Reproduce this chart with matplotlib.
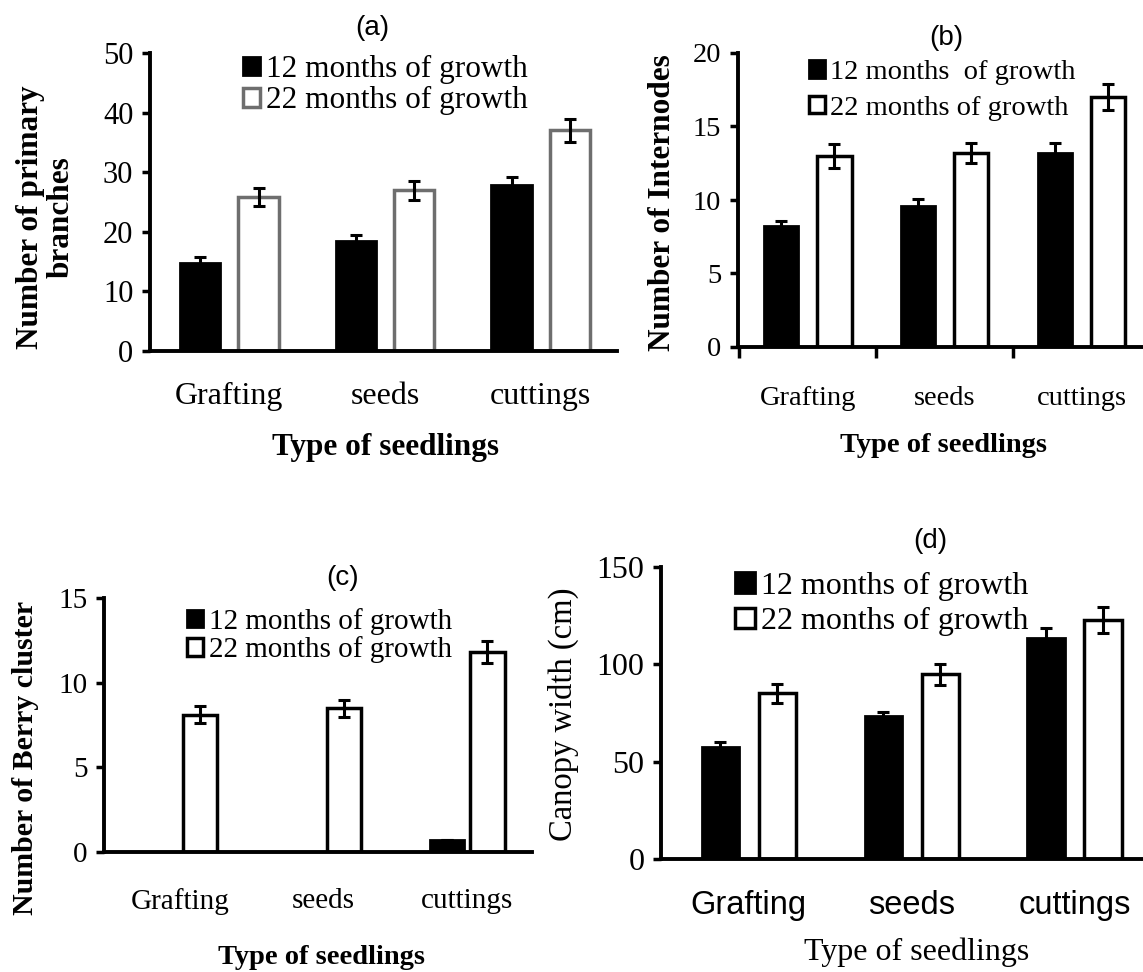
import numpy as np
import matplotlib
matplotlib.use("Agg")
import matplotlib.pyplot as plt

plt.rcParams['font.family'] = ['Liberation Serif', 'DejaVu Serif']

# data
seedlings = ["Grafting", "seeds", "cuttings"]
series_names = ["12 months of growth", "22 months of growth"]

branches_12 = [14.8, 18.4, 27.8]
branches_22 = [25.8, 27.0, 37.0]
branches_12_err = [1.0, 1.0, 1.4]
branches_22_err = [1.5, 1.6, 2.0]

internodes_12 = [8.2, 9.6, 13.2]
internodes_22 = [13.0, 13.2, 17.0]
internodes_12_err = [0.4, 0.5, 0.7]
internodes_22_err = [0.8, 0.7, 0.9]

berry_12 = [0.0, 0.0, 0.7]
berry_22 = [8.1, 8.5, 11.8]
berry_12_err = [0.0, 0.0, 0.0]
berry_22_err = [0.5, 0.5, 0.65]

canopy_12 = [57.4, 73.5, 113.6]
canopy_22 = [85.1, 95.0, 122.7]
canopy_12_err = [2.6, 2.2, 5.3]
canopy_22_err = [5.0, 5.4, 6.8]

W, H = 1143, 972
fig = plt.figure(figsize=(W / 100, H / 100), dpi=100)


def px_box(left, right, top, bottom):
    return [left / W, 1 - bottom / H, (right - left) / W, (bottom - top) / H]


def fx(x):
    return x / W


def fy(y):
    return 1 - y / H


def panel(box, xlim, ylim, yticks, v12, v22, e12, e22, width, offset,
          white_edge="black", tick_font=None, tick_size=20, ytick_size=20,
          tick_pad=24):
    ax = fig.add_axes(px_box(*box))
    x = np.arange(len(seedlings))
    b1 = ax.bar(x - offset, v12, width, color="black", edgecolor="black",
                linewidth=2, zorder=2, label=series_names[0])
    b2 = ax.bar(x + offset, v22, width, color="white", edgecolor=white_edge,
                linewidth=2.5, zorder=2, label=series_names[1])
    ax.errorbar(x - offset, v12, yerr=e12, fmt="none", ecolor="black",
                elinewidth=2.2, capsize=4.5, capthick=2.2, zorder=3)
    ax.errorbar(x + offset, v22, yerr=e22, fmt="none", ecolor="black",
                elinewidth=2.2, capsize=4.5, capthick=2.2, zorder=3)
    ax.set_xlim(*xlim)
    ax.set_ylim(*ylim)
    ax.set_yticks(yticks)
    ax.set_xticks(x)
    ax.set_xticklabels(seedlings)
    for s in ["top", "right"]:
        ax.spines[s].set_visible(False)
    for s in ["left", "bottom"]:
        ax.spines[s].set_linewidth(2.8)
        ax.spines[s].set_zorder(4)
    ax.tick_params(axis="y", length=6, width=2.5, labelsize=ytick_size, pad=6)
    ax.tick_params(axis="x", length=0, labelsize=tick_size, pad=tick_pad)
    if tick_font:
        for t in ax.get_xticklabels():
            t.set_family(tick_font)
    return ax, b1, b2


def legend(ax, handles, labels, left, top, spacing, size=20, hl=0.55):
    ax.legend(handles, labels, loc="upper left",
              bbox_to_anchor=(fx(left), fy(top)), bbox_transform=fig.transFigure,
              frameon=False, fontsize=size, handlelength=hl, handleheight=hl,
              handletextpad=0.2, labelspacing=spacing, borderpad=0,
              borderaxespad=0)


# (a)
ax, b1, b2 = panel((150, 617, 53, 351), (-0.51, 2.49), (0, 50), range(0, 51, 10),
                   branches_12, branches_22, branches_12_err, branches_22_err,
                   0.26, 0.1875, white_edge="#6e6e6e", tick_size=23,
                   ytick_size=22, tick_pad=22)
legend(ax, [b1, b2], series_names, 243, 55, 0.07, size=22.5)
fig.text(fx(372), fy(28), "(a)", family="Liberation Sans", fontsize=20,
         ha="center", va="center")
fig.text(fx(46), fy(217), "Number of primary\nbranches", rotation=90,
         fontsize=22.5, fontweight="bold", ha="center", va="center",
         linespacing=1.07)
fig.text(fx(386), fy(447), "Type of seedlings", fontsize=22.5, fontweight="bold",
         ha="center", va="center")

# (b)
ax, b1, b2 = panel((738, 1143, 53, 347), (-0.51, 2.45), (0, 20), range(0, 21, 5),
                   internodes_12, internodes_22, internodes_12_err,
                   internodes_22_err, 0.25, 0.195, tick_size=20.5,
                   ytick_size=20.5, tick_pad=28)
ax.set_xticks([-0.5, 0.5, 1.5], minor=True)
ax.tick_params(axis="x", which="minor", length=8, width=2.5, direction="out")
legend(ax, [b1, b2], ["12 months  of growth", series_names[1]], 809, 60, 0.38,
       size=20.5)
fig.text(fx(946), fy(38), "(b)", family="Liberation Sans", fontsize=20,
         ha="center", va="center")
fig.text(fx(662), fy(203), "Number of Internodes", rotation=90,
         fontsize=22.5, fontweight="bold", ha="center", va="center")
fig.text(fx(943), fy(445), "Type of seedlings", fontsize=20.5, fontweight="bold",
         ha="center", va="center")

# (c)
ax, b1, b2 = panel((104, 532, 598, 852), (-0.53, 2.45), (0, 15), range(0, 16, 5),
                   berry_12, berry_22, berry_12_err, berry_22_err, 0.24, 0.14,
                   tick_size=21, ytick_size=21, tick_pad=26)
legend(ax, [b1, b2], series_names, 187, 608, 0.05, size=21)
fig.text(fx(343), fy(578), "(c)", family="Liberation Sans", fontsize=20,
         ha="center", va="center")
fig.text(fx(26), fy(758), "Number of Berry cluster", rotation=90,
         fontsize=21.5, fontweight="bold", ha="center", va="center")
fig.text(fx(321), fy(957), "Type of seedlings", fontsize=20.5, fontweight="bold",
         ha="center", va="center")

# (d)
ax, b1, b2 = panel((661, 1143, 567, 859), (-0.54, 2.42), (0, 150), range(0, 151, 50),
                   canopy_12, canopy_22, canopy_12_err, canopy_22_err, 0.23, 0.175,
                   tick_font="Liberation Sans", tick_size=23.5, ytick_size=23,
                   tick_pad=22)
legend(ax, [b1, b2], series_names, 735, 572, 0.19, size=23, hl=0.62)
fig.text(fx(930), fy(541), "(d)", family="Liberation Sans", fontsize=20,
         ha="center", va="center")
fig.text(fx(563), fy(714), "Canopy width (cm)", rotation=90,
         fontsize=23.5, ha="center", va="center")
fig.text(fx(917), fy(952), "Type of seedlings", fontsize=23,
         ha="center", va="center")

fig.savefig("out.png", dpi=100)
